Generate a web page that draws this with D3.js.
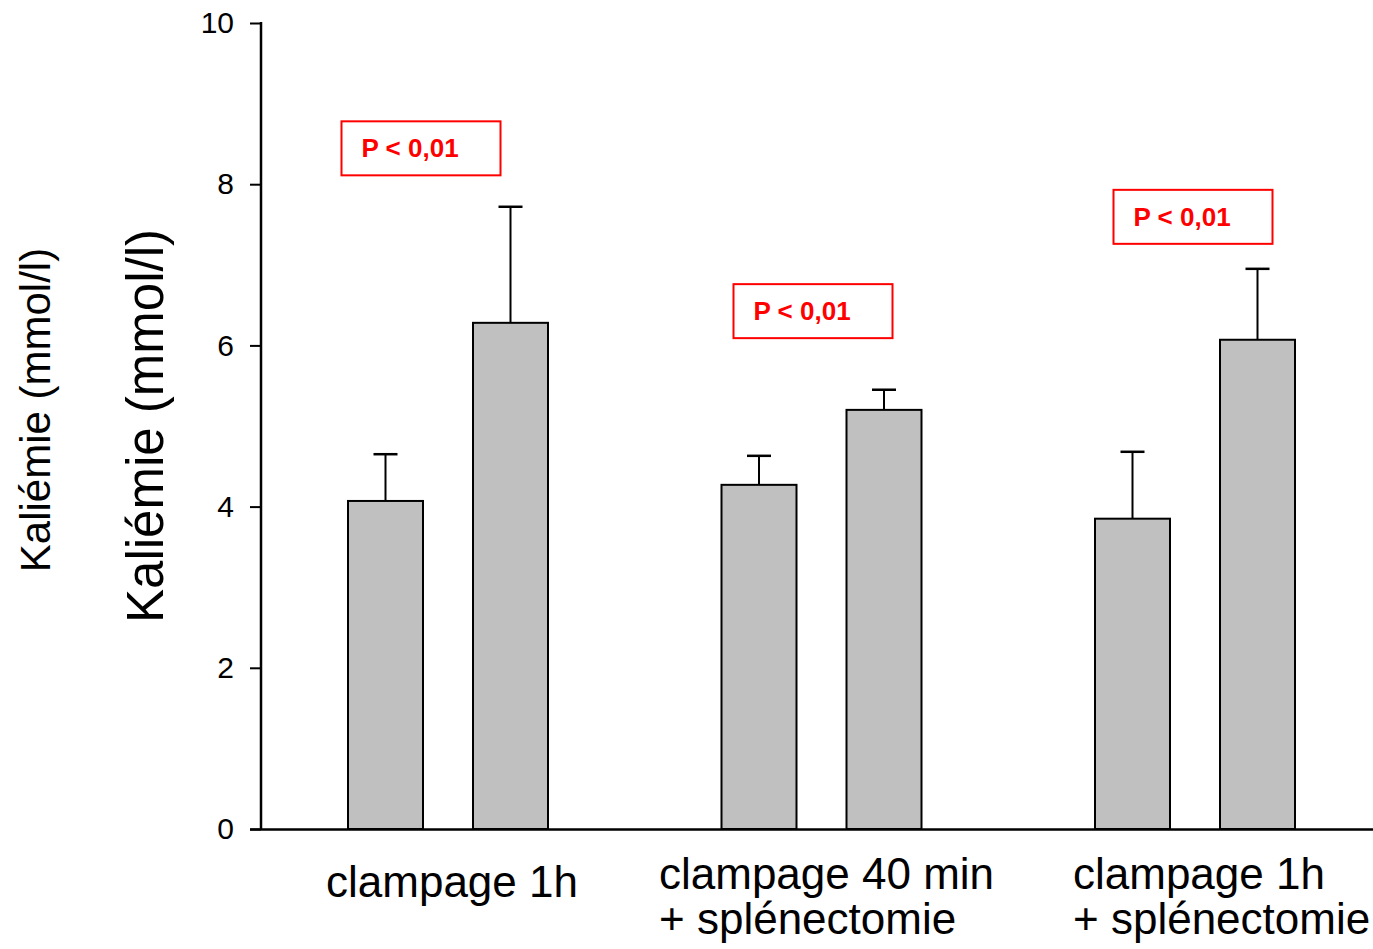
<!DOCTYPE html>
<html>
<head>
<meta charset="utf-8">
<script src="https://cdn.jsdelivr.net/npm/d3@7"></script>
<style>
  body { margin: 0; background: #fff; }
  svg { display: block; font-family: "Liberation Sans", Arial, sans-serif; }
</style>
</head>
<body>
<svg id="chart" width="1373" height="949"></svg>
<script>
// --- data ---
const groups = ["clampage 1h", "clampage 40 min|+ splénectomie", "clampage 1h|+ splénectomie"];
const subBars = ["avant", "après"];
const means = [
  [4.07, 6.28],
  [4.27, 5.20],
  [3.85, 6.07]
];
const errTops = [
  [4.65, 7.72],
  [4.63, 5.45],
  [4.68, 6.95]
];
const yTicks = [0, 2, 4, 6, 8, 10];
const yLabel = "Kaliémie (mmol/l)";
const pText = "P < 0,01";

const svg = d3.select("#chart");

const x0 = d3.scaleBand().domain(d3.range(groups.length)).range([261, 1381.5]);
const x1 = d3.scaleBand().domain(d3.range(subBars.length)).range([87, 287]).paddingInner(0.4);
const y = d3.scaleLinear().domain([0, 10]).range([829, 23]);

// --- bars ---
const g = svg.append("g");
means.forEach((vals, gi) => {
  vals.forEach((v, bi) => {
    const xl = x0(gi) + x1(bi);
    const cx = xl + x1.bandwidth() / 2;
    // error bar
    g.append("line")
      .attr("x1", cx).attr("x2", cx)
      .attr("y1", y(v)).attr("y2", y(errTops[gi][bi]))
      .attr("stroke", "#000").attr("stroke-width", 2);
    g.append("line")
      .attr("x1", cx - 12).attr("x2", cx + 12)
      .attr("y1", y(errTops[gi][bi])).attr("y2", y(errTops[gi][bi]))
      .attr("stroke", "#000").attr("stroke-width", 2.5);
    g.append("rect")
      .attr("x", xl).attr("y", y(v))
      .attr("width", x1.bandwidth()).attr("height", y(0) - y(v))
      .attr("fill", "#c0c0c0").attr("stroke", "#000").attr("stroke-width", 2);
  });
});

// --- axes ---
const yAxis = d3.axisLeft(y).tickValues(yTicks).tickSize(11).tickPadding(16);
const ya = svg.append("g").attr("transform", "translate(261,0)").call(yAxis);
ya.select(".domain").remove();
ya.selectAll(".tick line").attr("stroke", "#000").attr("stroke-width", 2);
ya.selectAll(".tick text").attr("font-size", 30).attr("fill", "#000")
  .attr("font-family", "Liberation Sans, Arial, sans-serif");
svg.append("line").attr("x1", 261).attr("x2", 261).attr("y1", 22).attr("y2", 830)
  .attr("stroke", "#000").attr("stroke-width", 2.5);
svg.append("line").attr("x1", 250).attr("x2", 1373).attr("y1", 829.5).attr("y2", 829.5)
  .attr("stroke", "#000").attr("stroke-width", 2.5);

// --- category labels ---
const labelPos = [
  { x: 452, y: 897, anchor: "middle" },
  { x: 659, y: 889, anchor: "start" },
  { x: 1073, y: 889, anchor: "start" }
];
groups.forEach((lab, i) => {
  const t = svg.append("text")
    .attr("x", labelPos[i].x).attr("y", labelPos[i].y)
    .attr("text-anchor", labelPos[i].anchor)
    .attr("font-size", 44).attr("fill", "#000");
  lab.split("|").forEach((line, li) => {
    t.append("tspan").attr("x", labelPos[i].x).attr("dy", li === 0 ? 0 : 45).text(line);
  });
});

// --- y labels (two copies, as in the figure) ---
svg.append("text")
  .attr("transform", "translate(50,410) rotate(-90)")
  .attr("text-anchor", "middle").attr("font-size", 42).attr("fill", "#000")
  .text(yLabel);
svg.append("text")
  .attr("transform", "translate(163,426) rotate(-90)")
  .attr("text-anchor", "middle").attr("font-size", 51).attr("fill", "#000")
  .text(yLabel);

// --- significance boxes ---
const pBoxes = [
  { x: 341.5, top: 8.78 },
  { x: 733.5, top: 6.76 },
  { x: 1113.5, top: 7.93 }
];
pBoxes.forEach(b => {
  const yt = y(b.top);
  svg.append("rect")
    .attr("x", b.x).attr("y", yt).attr("width", 159).attr("height", 54)
    .attr("fill", "none").attr("stroke", "#ff0000").attr("stroke-width", 2);
  svg.append("text")
    .attr("x", b.x + 20).attr("y", yt + 36)
    .attr("font-size", 26).attr("font-weight", "bold").attr("fill", "#ff0000")
    .text(pText);
});
</script>
</body>
</html>
